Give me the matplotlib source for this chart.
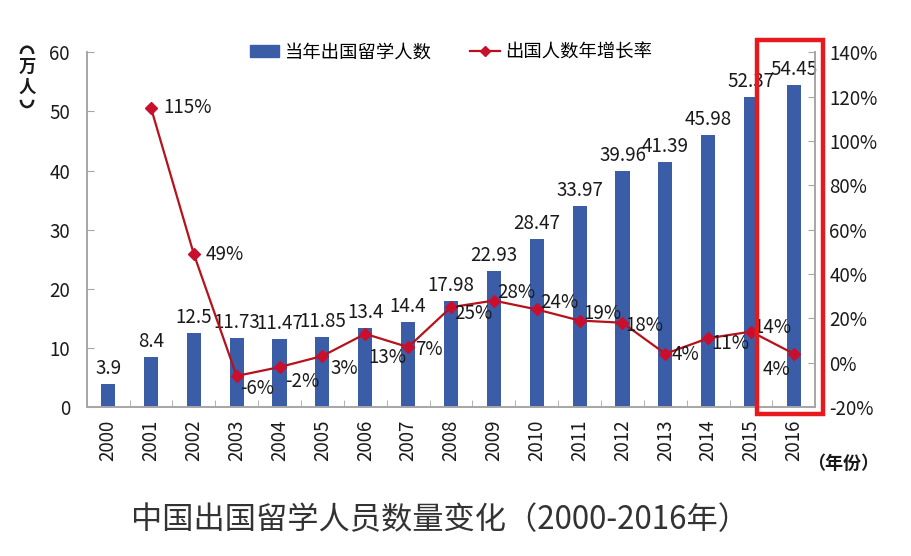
import numpy as np
import matplotlib
matplotlib.use('Agg')
import matplotlib.pyplot as plt
from matplotlib.patches import Rectangle, Patch, Arc
from matplotlib.lines import Line2D
from matplotlib.ticker import FuncFormatter

plt.rcParams['font.family'] = ['Noto Sans CJK SC', 'DejaVu Sans']

# Data
years = ['2000', '2001', '2002', '2003', '2004', '2005', '2006', '2007', '2008',
         '2009', '2010', '2011', '2012', '2013', '2014', '2015', '2016']
students = [3.9, 8.4, 12.5, 11.73, 11.47, 11.85, 13.4, 14.4, 17.98,
            22.93, 28.47, 33.97, 39.96, 41.39, 45.98, 52.37, 54.45]
growth = [115, 49, -6, -2, 3, 13, 7, 25, 28, 24, 19, 18, 4, 11, 14, 4]  # 2001-2016, %
growth_labels = ['115%', '49%', '-6%', '-2%', '3%', '13%', '7%', '25%', '28%',
                 '24%', '19%', '18%', '4%', '11%', '14%', '4%']

# label offsets in pixels (dx, dy, ha) for the growth labels
label_offsets = [(12, 0, 'left'), (12, 0, 'left'), (3, -13, 'left'), (6, -14, 'left'),
                 (8, -13, 'left'), (3, -24, 'left'), (7, -2, 'left'), (3, -6, 'left'),
                 (3, 8, 'left'), (3, 7, 'left'), (4, 7, 'left'), (3, -3, 'left'),
                 (6, -1, 'left'), (3, -5, 'left'), (2, 4, 'left'), (-4, -16, 'right')]

blue = '#3B5DA8'
red = '#B5121B'
gray = '#A6A6A6'
txt = '#1A1A1A'
fs = 13.5

x = np.arange(len(years))

fig = plt.figure(figsize=(9.12, 5.56), dpi=100)
ax1 = fig.add_axes([0.095, 0.268, 0.799, 0.638])
ax2 = ax1.twinx()

ax1.bar(x, students, width=0.33, color=blue, zorder=2)
for xi, v in zip(x, students):
    ax1.annotate(f'{v:g}', (xi, v), xytext=(0, 5), textcoords='offset pixels',
                 ha='center', va='bottom', fontsize=fs, color=txt)

ax1.set_xlim(-0.5, len(years) - 0.5)
ax1.set_ylim(0, 60)
ax1.set_yticks(range(0, 61, 10))
ax1.set_xticks(x)
ax1.set_xticklabels(years, rotation=90, fontsize=fs, color=txt)
ax1.set_xticks(np.arange(-0.5, len(years), 1), minor=True)
ax1.tick_params(axis='x', which='major', length=0, pad=9)
ax1.tick_params(axis='x', which='minor', direction='in', length=5, color=gray)
ax1.tick_params(axis='y', direction='in', length=5, color=gray, labelsize=fs,
                labelcolor=txt, pad=12)

ax2.plot(x[1:], growth, color=red, lw=1.6, marker='D', markersize=6.5,
         markerfacecolor='#C8102E', markeredgecolor='#C8102E', zorder=3)
for xi, g, lab, (dx, dy, ha) in zip(x[1:], growth, growth_labels, label_offsets):
    ax2.annotate(lab, (xi, g), xytext=(dx, dy), textcoords='offset pixels',
                 ha=ha, va='center', fontsize=fs, color=txt)

ax2.set_ylim(-20, 140)
ax2.set_yticks(range(-20, 141, 20))
ax2.yaxis.set_major_formatter(FuncFormatter(lambda v, p: f'{v:.0f}%'))
ax2.tick_params(axis='y', direction='in', length=5, color=gray, labelsize=fs,
                labelcolor=txt, pad=10)

for ax in (ax1, ax2):
    ax.spines['top'].set_visible(False)
    for s in ('left', 'right', 'bottom'):
        ax.spines[s].set_color(gray)
        ax.spines[s].set_linewidth(1.2)

# highlight box around 2016
box = Rectangle((15.15, -1.2), 1.52, 63.2, transform=ax1.transData, fill=False,
                edgecolor='#E8191C', lw=3.2, clip_on=False, zorder=10)
ax2.add_patch(box)

# legend
handles = [Patch(facecolor=blue, edgecolor=blue),
           Line2D([0], [0], color=red, lw=1.6, marker='D', markersize=5.5,
                  markerfacecolor='#C8102E', markeredgecolor='#C8102E')]
ax1.legend(handles, ['当年出国留学人数', '出国人数年增长率'], loc='center',
           bbox_to_anchor=(0.5, 1.0), ncol=2, frameon=False, fontsize=13.2,
           handlelength=1.6, handleheight=0.6, columnspacing=2.1, handletextpad=0.3)

# axis units, stacked vertically; brackets drawn as arcs
fig.text(0.03, 0.8795, '万', ha='center', va='center', fontsize=12.5,
         fontweight='bold', color=txt)
fig.text(0.03, 0.8417, '人', ha='center', va='center', fontsize=12.5,
         fontweight='bold', color=txt)
fig.patches.append(Arc((0.0296, 0.903), 0.0135, 0.026, theta1=0, theta2=180,
                       transform=fig.transFigure, color=txt, lw=1.8))
fig.patches.append(Arc((0.0296, 0.8205), 0.0135, 0.026, theta1=180, theta2=360,
                       transform=fig.transFigure, color=txt, lw=1.8))
fig.text(0.924, 0.167, '（年份）', ha='center', va='center', fontsize=13,
         fontweight='bold', color=txt)

fig.text(0.482, 0.065, '中国出国留学人员数量变化（2000-2016年）', ha='center',
         va='center', fontsize=22.5, color='#333333')

fig.savefig('out.png', dpi=100)
